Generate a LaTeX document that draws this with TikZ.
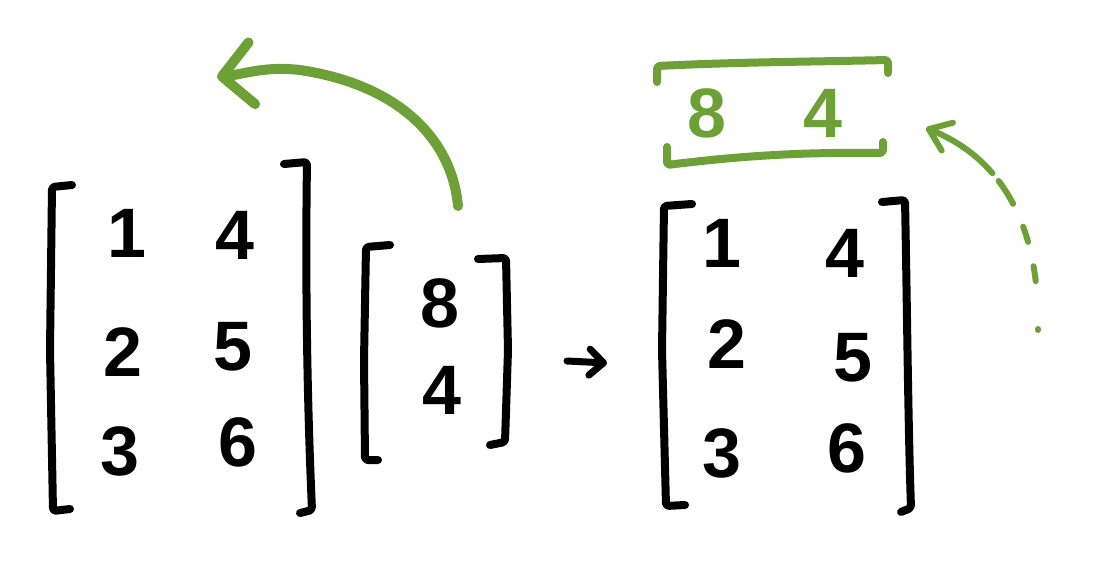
\documentclass[tikz,border=0pt]{standalone}
\usepackage{fontspec}
\setmainfont{Liberation Sans}
\usetikzlibrary{arrows.meta}
\definecolor{mgreen}{RGB}{109,160,54}
\tikzset{
  ink/.style={line width=8pt, line cap=round, line join=round, rounded corners=3pt},
  gink/.style={ink, draw=mgreen},
  digit/.style={inner sep=0pt, font=\fontsize{70}{70}\selectfont\bfseries},
  gdigit/.style={digit, text=mgreen},
}
\begin{document}
\begin{tikzpicture}[x=1pt,y=-1pt]
\useasboundingbox (0,0) rectangle (1093,572);
% left matrix
\draw[ink] (72,185) -- (52,187) -- (50,350) -- (53,511) -- (70,509);
\draw[ink] (284,164) -- (307,162) .. controls (305,300) and (308,420) .. (312,510) -- (300,513);
\node[digit] (a11) at (127,233) {1};
\node[digit] (a12) at (235,235) {4};
\node[digit] (a21) at (123,352) {2};
\node[digit] (a22) at (233,347) {5};
\node[digit] (a31) at (120,451) {3};
\node[digit] (a32) at (238,442) {6};
% vector
\draw[ink] (390,245) -- (366,247) -- (364,360) -- (365,460) -- (378,460);
\draw[ink] (478,259) -- (506,258) -- (508,350) -- (505,442) -- (490,445);
\node[digit] (v1) at (440,303) {8};
\node[digit] (v2) at (442,390) {4};
% small arrow
\coordinate (s1) at (567,361);
\coordinate (s2) at (607,363);
\draw[line width=7pt, line cap=round, -{Straight Barb[round,length=14pt,width=26pt]}] (s1) -- (s2);
% right matrix
\draw[ink] (692,204) -- (664,206) -- (662,350) -- (666,506) -- (685,505);
\draw[ink] (882,202) -- (905,200) .. controls (907,300) and (908,420) .. (911,508) -- (901,512);
\node[digit] (b11) at (722,243) {1};
\node[digit] (b12) at (845,253) {4};
\node[digit] (b21) at (727,344) {2};
\node[digit] (b22) at (853,358) {5};
\node[digit] (b31) at (722,453) {3};
\node[digit] (b32) at (847,448) {6};
% green row
\draw[gink] (657,82) -- (657,66) .. controls (740,62) and (800,62) .. (888,60) -- (888,73);
\draw[gink] (667,147) -- (667,165) .. controls (740,156) and (800,152) .. (883,153) -- (883,142);
\node[gdigit] (g1) at (707,113) {8};
\node[gdigit] (g2) at (823,113) {4};
% big green arrow
\coordinate (c1) at (458,206);
\coordinate (c2) at (217,77);
\draw[draw=mgreen, line width=10pt, line cap=round, -{Straight Barb[round,length=30pt,width=62pt]}]
  (c1) .. controls (452,140) and (400,85) .. (300,70) .. controls (265,66) and (245,74) .. (c2);
% dotted green arrow
\coordinate (d1) at (1038,330);
\coordinate (d2) at (926,128);
\draw[draw=mgreen, line width=6pt, line cap=round,
  dash pattern=on 1pt off 48pt on 15pt off 25pt on 16pt off 25pt on 27pt off 10pt on 400pt,
  -{Straight Barb[round,length=20pt,width=30pt]}]
  (d1) .. controls (1040,230) and (1005,160) .. (d2);
\end{tikzpicture}
\end{document}
